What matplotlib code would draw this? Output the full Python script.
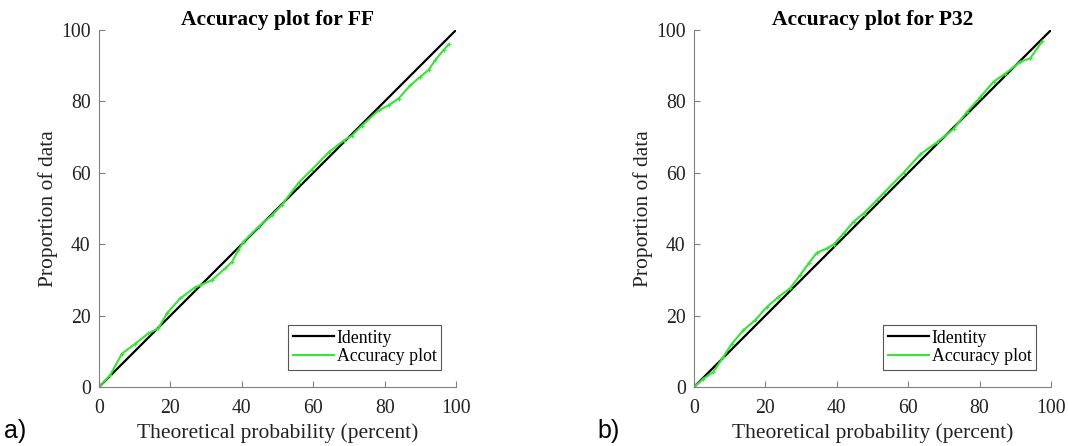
import matplotlib
matplotlib.use("Agg")
import matplotlib.pyplot as plt

# Accuracy plot data (theoretical probability vs proportion of data, percent)
ff_x = [0, 3.1, 6.4, 10.1, 13.8, 16.6, 19, 22.7, 26.9, 28.3, 31.6, 35.3, 37.2,
        39, 40.5, 44.7, 48.4, 51.2, 55.9, 59.6, 64.3, 68.5, 70.8, 73.6, 78.3,
        81.1, 83.9, 87.2, 90, 92.3, 94.2, 96.5, 98]
ff_y = [0, 3.3, 9.3, 12.1, 15, 16.4, 20.6, 24.8, 27.9, 28.5, 29.9, 33.2, 35,
        38.3, 40.7, 44.9, 48.1, 51, 57.2, 60.9, 65.7, 69, 70.4, 73.2, 77.5,
        78.9, 80.8, 84.5, 86.9, 88.8, 91.6, 94.4, 96]

p32_x = [0, 2.6, 5.4, 8.2, 10.6, 13.8, 17.1, 20.4, 23.6, 26.9, 29.7, 32.1,
         34.4, 37.2, 39.1, 41.9, 44.7, 47.5, 51.2, 53.1, 58.7, 63.4, 68, 72.7,
         76.4, 80.2, 83.9, 87.2, 91.4, 94.2, 97.5]
p32_y = [0, 2.3, 4.2, 8.4, 12.1, 15.9, 18.7, 22.4, 25.2, 27.6, 31.3, 34.6,
         37.6, 38.8, 39.9, 43, 46.3, 48.6, 52.3, 54.3, 60, 65.2, 68.5, 72.3,
         77, 81.2, 85.5, 87.8, 91.1, 92.1, 96.8]

identity = [0, 100]
ticks = [0, 20, 40, 60, 80, 100]

panels = [
    ("Accuracy plot for FF", ff_x, ff_y, "a)"),
    ("Accuracy plot for P32", p32_x, p32_y, "b)"),
]

serif = "Liberation Serif"
green = "#33e633"
fig = plt.figure(figsize=(10.68, 4.46), dpi=100)
positions = [[0.0927, 0.1323, 0.3343, 0.8004],
             [0.6498, 0.1323, 0.3343, 0.8004]]
letter_x = [0.004, 0.559]

for (title, xs, ys, tag), pos, lx in zip(panels, positions, letter_x):
    ax = fig.add_axes(pos)
    ax.plot(identity, identity, color="black", lw=1.6, label="Identity")
    ax.plot(xs, ys, color=green, lw=1.5, label="Accuracy plot")
    # small cross markers on the sample points (kept out of the legend)
    ax.plot(xs, ys, linestyle="none", marker="+", markersize=3,
            markeredgewidth=0.8, color=green)
    ax.set_xlim(0, 100)
    ax.set_ylim(0, 100)
    ax.set_xticks(ticks)
    ax.set_yticks(ticks)
    for s in ("top", "right"):
        ax.spines[s].set_visible(False)
    for s in ("left", "bottom"):
        ax.spines[s].set_color("#808080")
        ax.spines[s].set_linewidth(0.8)
    ax.tick_params(direction="in", length=4, width=0.8, color="#808080",
                   labelsize=14.2)
    ax.tick_params(axis="x", pad=8.5)
    ax.tick_params(axis="y", pad=6)
    for lab in ax.get_xticklabels() + ax.get_yticklabels():
        lab.set_fontfamily(serif)
        lab.set_color("#222222")
    ax.set_title(title, fontfamily=serif, fontweight="bold", fontsize=15.5,
                 pad=1.5)
    ax.set_xlabel("Theoretical probability (percent)", fontfamily=serif,
                  fontsize=15.5, labelpad=4, color="#222222")
    ax.set_ylabel("Proportion of data", fontfamily=serif, fontsize=15.5,
                  labelpad=2, color="#222222")
    leg = ax.legend(loc="lower right", bbox_to_anchor=(0.958, 0.048),
                    prop={"family": serif, "size": 12.8}, fancybox=False,
                    framealpha=1, edgecolor="#555555", handlelength=2.3,
                    handletextpad=0.17, borderpad=0.25, labelspacing=0.1,
                    borderaxespad=0)
    leg.get_frame().set_linewidth(0.8)
    fig.text(lx, 0.006, tag, fontfamily="Liberation Sans", fontsize=18,
             ha="left", va="bottom")

fig.savefig("out.png", dpi=100)
